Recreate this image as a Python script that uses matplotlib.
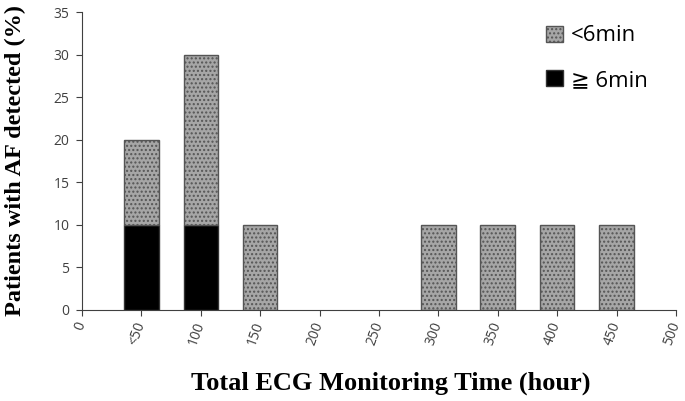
import matplotlib
matplotlib.use("Agg")
import matplotlib.pyplot as plt
import numpy as np
from matplotlib.patches import Patch

categories = ["0", "<50", "100", "150", "200", "250", "300", "350", "400", "450", "500"]
ge6min = [0, 10, 10, 0, 0, 0, 0, 0, 0, 0, 0]
lt6min = [0, 10, 20, 10, 0, 0, 10, 10, 10, 10, 0]
yticks = [0, 5, 10, 15, 20, 25, 30, 35]

fig = plt.figure(figsize=(6.85, 4.01), dpi=100)
ax = fig.add_axes([0.1197, 0.227, 0.867, 0.743])

x = np.arange(len(categories))
w = 0.58
mask = [i for i in range(len(categories)) if ge6min[i] + lt6min[i] > 0]
xb = x[mask]
b1 = [ge6min[i] for i in mask]
b2 = [lt6min[i] for i in mask]
ax.bar(xb, b1, width=w, color="black", edgecolor="#333333", linewidth=1, zorder=2)
ax.bar(xb, b2, bottom=b1, width=w, color="#a6a6a6", edgecolor="#555555",
       linewidth=1, hatch="....", zorder=2)

ax.set_xlim(0, 10)
ax.set_ylim(0, 35)
ax.set_yticks(yticks)
ax.set_xticks(x)
ax.set_xticklabels(categories, rotation=70, ha="right", va="center",
                   rotation_mode="anchor", fontsize=10, color="#404040",
                   family=["Open Sans", "DejaVu Sans"])
for lab in ax.get_yticklabels():
    lab.set_fontsize(10)
    lab.set_color("#404040")
    lab.set_family(["Open Sans", "DejaVu Sans"])
ax.tick_params(axis="x", direction="out", length=4, pad=5, color="#404040")
ax.tick_params(axis="y", direction="out", length=4, pad=5, color="#404040")
for s in ["top", "right"]:
    ax.spines[s].set_visible(False)
for s in ["left", "bottom"]:
    ax.spines[s].set_color("#404040")

fig.text(0.022, 0.6, "Patients with AF detected (%)", fontsize=17.5, fontweight="bold",
         family="Liberation Serif", rotation=90, ha="center", va="center")
fig.text(0.57, 0.045, "Total ECG Monitoring Time (hour)", fontsize=19,
         fontweight="bold", family="Liberation Serif", ha="center", va="center")

handles = [Patch(facecolor="#a6a6a6", edgecolor="#555555", hatch="...."),
           Patch(facecolor="black", edgecolor="#333333")]
leg = ax.legend(handles, ["<6min", "\u2267 6min"], loc="upper left",
                bbox_to_anchor=(0.748, 1.022), frameon=False, labelspacing=1.05,
                handlelength=0.75, handleheight=0.75, handletextpad=0.35,
                prop={"family": ["Open Sans", "DejaVu Sans"], "size": 16})

fig.savefig("out.png", dpi=100)
